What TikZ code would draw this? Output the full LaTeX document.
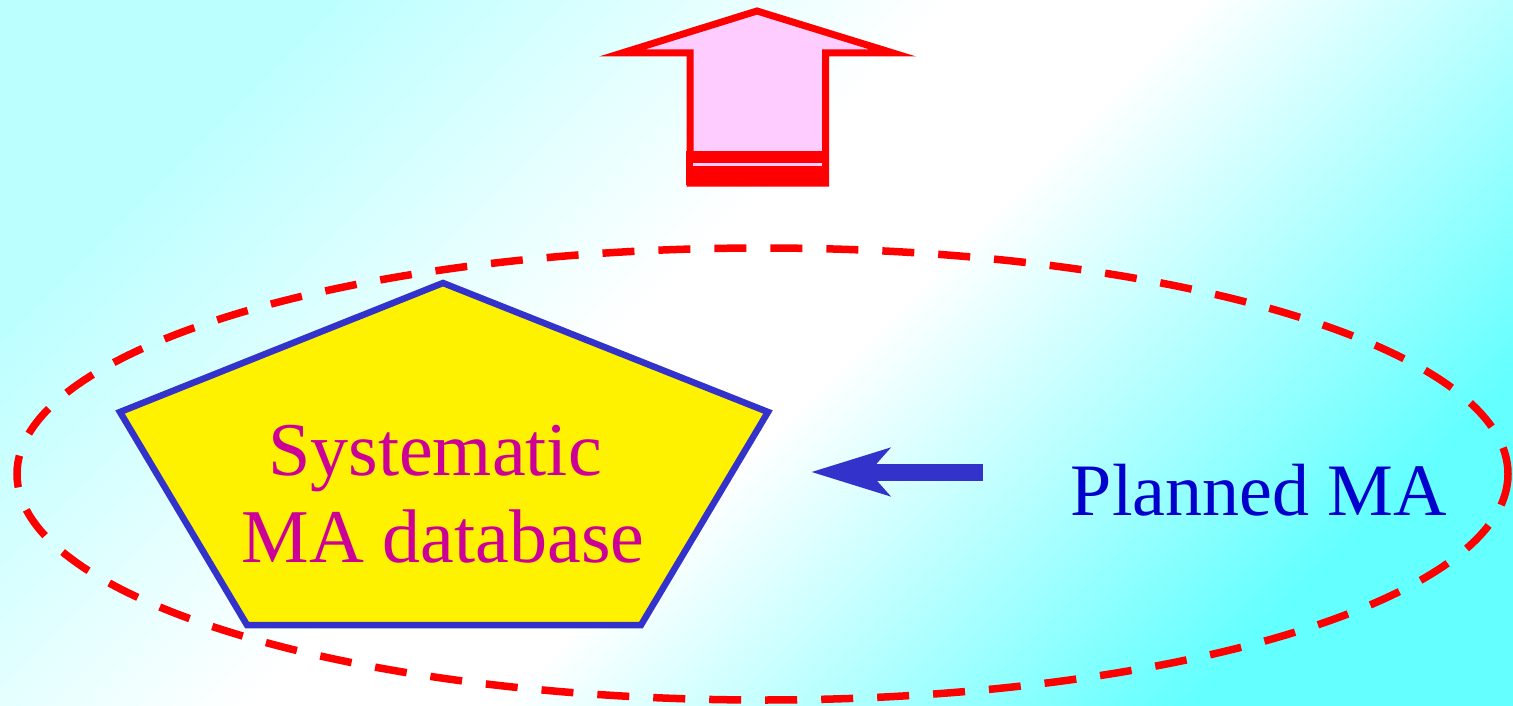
\documentclass[tikz,border=0pt]{standalone}
\usepackage{fontspec}
\setmainfont{Liberation Serif}
\newfontfamily\timesfam{LiberationSerif-Regular.ttf}
\usetikzlibrary{arrows.meta}
\definecolor{bgA}{RGB}{188,255,255}
\definecolor{bgB}{RGB}{100,255,255}
\definecolor{arrowpink}{RGB}{255,204,255}
\definecolor{penblue}{RGB}{51,51,204}
\definecolor{txtmag}{RGB}{204,0,153}
\definecolor{txtblue}{RGB}{0,0,204}
\pgfdeclareverticalshading{bgshade}{100bp}{color(0bp)=(bgB); color(25bp)=(bgB); color(47bp)=(white); color(55bp)=(white); color(75bp)=(bgA); color(100bp)=(bgA)}
\tikzset{
  uparrow/.style={draw=red, fill=arrowpink, line width=7pt, miter limit=10},
  redbar/.style={fill=red},
  pentagonbox/.style={draw=penblue, fill=yellow, line width=6.5pt, line join=miter},
  ringline/.style={draw=red, line width=7.5pt, dash pattern=on 32pt off 24pt},
  bluearrow/.style={draw=penblue, line width=17pt, -{Stealth[length=78pt, width=47pt, inset=20pt]}},
  magtext/.style={text=txtmag, font=\timesfam\fontsize{76}{90}\selectfont, inner sep=0pt, anchor=base},
  bluetext/.style={text=txtblue, font=\timesfam\fontsize{74}{88}\selectfont, inner sep=0pt, anchor=base}
}
\begin{document}
\begin{tikzpicture}[x=1pt, y=-1pt]
\useasboundingbox (0,0) rectangle (1513,706);
\shade[shading=bgshade, shading angle=45] (0,0) rectangle (1513,706);
% top arrow
\filldraw[uparrow] (690,183) -- (690,53) -- (622,53) -- (757,11) -- (893,53) -- (825.5,53) -- (825.5,183) -- cycle;
\fill[redbar] (686,151) rectangle (829,185);
\fill[arrowpink] (693,163.5) rectangle (822,166.5);
% ellipse
\draw[ringline] (762.5,474) ellipse [x radius=745.5, y radius=226];
% pentagon
\coordinate (p1) at (443,283);
\coordinate (p2) at (768,412);
\coordinate (p3) at (641,625);
\coordinate (p4) at (247,625);
\coordinate (p5) at (120,412);
\filldraw[pentagonbox] (p1) -- (p2) -- (p3) -- (p4) -- (p5) -- cycle;
\node[magtext] (sys) at (435,475) {Systematic};
\node[magtext] (db) at (443,562) {MA database};
% planned MA
\node[bluetext] (plan) at (1259,515) {Planned MA};
\coordinate (aStart) at (983,472);
\coordinate (aEnd) at (811,472);
\draw[bluearrow] (aStart) -- (aEnd);
\end{tikzpicture}
\end{document}
